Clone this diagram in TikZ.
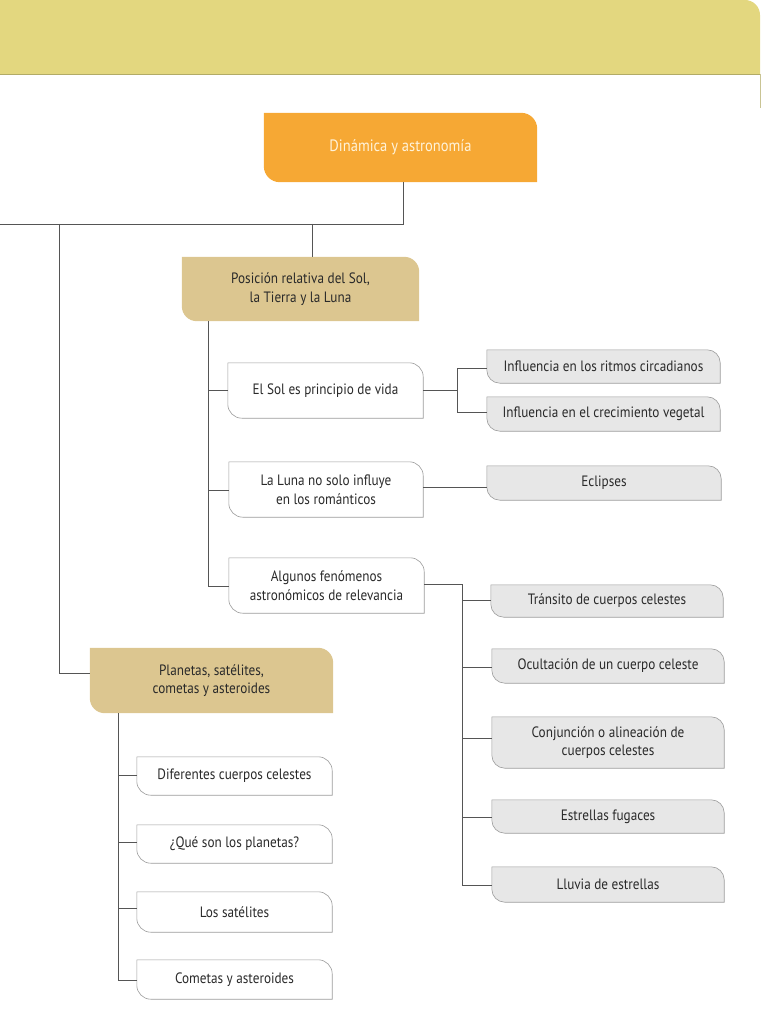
\documentclass[tikz,border=0pt]{standalone}
\usepackage{fontspec}
\setmainfont[FakeStretch=0.88]{PT Sans}
\usetikzlibrary{backgrounds,calc}
\definecolor{bandc}{HTML}{E3D77F}
\definecolor{bandline}{HTML}{B2AB66}
\definecolor{orangec}{HTML}{F6A834}
\definecolor{tanc}{HTML}{DCC690}
\definecolor{leafc}{HTML}{E7E7E7}
\definecolor{edgec}{HTML}{9C9C9C}
\definecolor{linec}{HTML}{555555}
\definecolor{txtc}{HTML}{2A2A2A}
\definecolor{roottxt}{HTML}{FFF3DA}
\newcommand\cshape[3]{%
  \path[#2] (#1.north west) -- ([xshift=-#3]#1.north east)
    arc[start angle=90,end angle=0,radius=#3] -- (#1.south east)
    -- ([xshift=#3]#1.south west) arc[start angle=270,end angle=180,radius=#3] -- cycle;}
\begin{document}
\begin{tikzpicture}[x=1pt,y=-1pt,
  base/.style={inner sep=0pt, align=center, text=txtc, font=\fontsize{15}{18.5}\selectfont},
  conn/.style={draw=linec, line width=0.6pt}]
\useasboundingbox (0,0) rectangle (762,1024);
% header band
\path[fill=bandc] (0,0) -- (745,0) arc[start angle=90,end angle=0,radius=15pt] -- (760,74) -- (0,74) -- cycle;
\coordinate (bl) at (0,74);
\coordinate (br) at (760,74);
\coordinate (bd) at (760,108);
\draw[bandline, line width=0.8pt] (bl) -- (br);
\draw[bandline!70, line width=0.5pt] (br) -- (bd);
% nodes
\node[base, minimum width=273pt, minimum height=69pt, text=roottxt, font=\fontsize{16.5}{19}\selectfont] (root) at (400.5,147.5) {Dinámica y astronomía};
\node[base, minimum width=237pt, minimum height=64pt] (pos) at (300.5,289) {Posición relativa del Sol,\\la Tierra y la Luna};
\node[base, minimum width=243pt, minimum height=65pt] (pla) at (211.5,680.5) {Planetas, satélites,\\cometas y asteroides};
\node[base, minimum width=195pt, minimum height=55pt] (sol) at (325.5,390.5) {El Sol es principio de vida};
\node[base, minimum width=194pt, minimum height=55pt] (luna) at (326,489.5) {La Luna no solo influye\\en los románticos};
\node[base, minimum width=195pt, minimum height=55pt] (alg) at (326.5,585.5) {Algunos fenómenos\\astronómicos de relevancia};
\node[base, minimum width=233pt, minimum height=33pt] (rit) at (603.5,366.5) {Influencia en los ritmos circadianos};
\node[base, minimum width=233pt, minimum height=34pt] (veg) at (603.5,414) {Influencia en el crecimiento vegetal};
\node[base, minimum width=234pt, minimum height=34pt] (ecl) at (604,483) {Eclipses};
\node[base, minimum width=232pt, minimum height=32pt] (tra) at (607,601) {Tránsito de cuerpos celestes};
\node[base, minimum width=232pt, minimum height=34pt] (ocu) at (608,666) {Ocultación de un cuerpo celeste};
\node[base, minimum width=232pt, minimum height=51pt] (con) at (608,742.5) {Conjunción o alineación de\\cuerpos celestes};
\node[base, minimum width=232pt, minimum height=33pt] (fug) at (608,816.5) {Estrellas fugaces};
\node[base, minimum width=232pt, minimum height=35pt] (llu) at (608,884.5) {Lluvia de estrellas};
\node[base, minimum width=195pt, minimum height=38pt] (dif) at (234.5,776) {Diferentes cuerpos celestes};
\node[base, minimum width=195pt, minimum height=38pt] (que) at (234.5,844) {¿Qué son los planetas?};
\node[base, minimum width=195pt, minimum height=40pt] (sat) at (234.5,912) {Los satélites};
\node[base, minimum width=195pt, minimum height=39pt] (com) at (234.5,979.5) {Cometas y asteroides};
% shapes
\begin{scope}[on background layer]
\cshape{root}{fill=orangec}{16pt}
\cshape{pos}{fill=tanc}{15pt}
\cshape{pla}{fill=tanc}{15pt}
\foreach \n in {sol,luna,alg,dif,que,sat,com}{\cshape{\n}{fill=white,draw=edgec,line width=0.6pt}{14pt}}
\foreach \n in {rit,veg,ecl,tra,ocu,con,fug,llu}{\cshape{\n}{fill=leafc,draw=edgec,line width=0.6pt}{13pt}}
\end{scope}
% junction coordinates
\coordinate (j0) at (403,224);
\coordinate (jl) at (0,224);
\coordinate (jp) at (312,224);
\coordinate (jq) at (59,224);
\coordinate (sp) at (208,321);
\coordinate (sb) at (457,390);
\coordinate (ab) at (462,584);
\coordinate (pp) at (118,713);
% connectors
\draw[conn] (root.south -| j0) -- (j0) -- (jl);
\draw[conn] (jp) -- (pos.north -| jp);
\draw[conn] (jq) |- (pla.west |- 0,673);
\draw[conn] (pos.south -| sp) -- (sp |- 0,586) -- (alg.west |- 0,586);
\draw[conn] (sp |- 0,390) -- (sol.west |- 0,390);
\draw[conn] (sp |- 0,490) -- (luna.west |- 0,490);
\draw[conn] (sol.east |- sb) -- (sb);
\draw[conn] (sb) |- (rit.west |- 0,368);
\draw[conn] (sb) |- (veg.west |- 0,412);
\draw[conn] (luna.east |- 0,487) -- (ecl.west |- 0,487);
\draw[conn] (alg.east |- ab) -- (ab) -- (ab |- 0,885) -- (llu.west |- 0,885);
\draw[conn] (ab |- 0,600) -- (tra.west |- 0,600);
\draw[conn] (ab |- 0,667) -- (ocu.west |- 0,667);
\draw[conn] (ab |- 0,738) -- (con.west |- 0,738);
\draw[conn] (ab |- 0,817) -- (fug.west |- 0,817);
\draw[conn] (pla.south -| pp) -- (pp |- 0,980) -- (com.west |- 0,980);
\draw[conn] (pp |- 0,775) -- (dif.west |- 0,775);
\draw[conn] (pp |- 0,842) -- (que.west |- 0,842);
\draw[conn] (pp |- 0,908) -- (sat.west |- 0,908);
\end{tikzpicture}
\end{document}
